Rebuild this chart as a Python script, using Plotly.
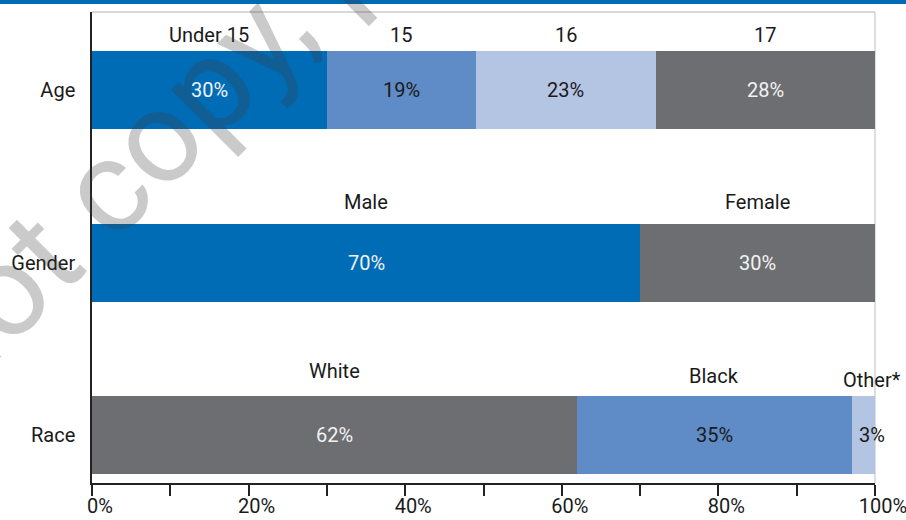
import plotly.graph_objects as go

# Rows from bottom to top on the category axis
rows = ["Race", "Gender", "Age"]

age_groups = ["Under 15", "15", "16", "17"]
age_pct = [30, 19, 23, 28]

gender_groups = ["Male", "Female"]
gender_pct = [70, 30]

race_groups = ["White", "Black", "Other*"]
race_pct = [62, 35, 3]

x_ticks = [0, 20, 40, 60, 80, 100]
x_tick_labels = ["0%", "20%", "40%", "60%", "80%", "100%"]

DARK_BLUE = "#006CB6"
MID_BLUE = "#5F8BC6"
LIGHT_BLUE = "#B4C5E4"
GRAY = "#6D6E72"
TEXT = "#1A1A1A"
FONT = "Roboto, Arial, sans-serif"
WEIGHT = 400

groups = [
    # row, names, values, fills, value-label colours, name offsets above bar centre (px)
    ("Age", age_groups, age_pct,
     [DARK_BLUE, MID_BLUE, LIGHT_BLUE, GRAY],
     ["#F2F2F2", TEXT, TEXT, "#F2F2F2"],
     [55, 55, 55, 55]),
    ("Gender", gender_groups, gender_pct,
     [DARK_BLUE, GRAY],
     ["#F2F2F2", "#F2F2F2"],
     [61, 61]),
    ("Race", race_groups, race_pct,
     [GRAY, MID_BLUE, LIGHT_BLUE],
     ["#F2F2F2", TEXT, TEXT],
     [64, 59, 55]),
]

BAR_W = 0.452

fig = go.Figure()
annotations = []

for row, names, vals, fills, vcols, offs in groups:
    yi = rows.index(row)
    start = 0
    for name, v, fc, vc, off in zip(names, vals, fills, vcols, offs):
        fig.add_trace(go.Bar(
            x=[v], y=[yi], base=[start], orientation="h",
            width=BAR_W, marker=dict(color=fc, line=dict(width=0)),
            name=name, showlegend=False, hoverinfo="skip",
        ))
        mid = start + v / 2
        small = v < 5
        # value label inside the segment
        annotations.append(dict(
            x=start if small else mid, y=yi, xref="x", yref="y",
            text=f"{v}%", showarrow=False,
            xanchor="left" if small else "center", yanchor="middle",
            xshift=5 if small else 0,
            font=dict(family=FONT, size=20, color=vc, weight=WEIGHT),
        ))
        # category name above the segment
        annotations.append(dict(
            x=mid, y=yi, xref="x", yref="y",
            text=name, showarrow=False,
            xanchor="center", yanchor="middle",
            xshift=9 if small else 0, yshift=off,
            font=dict(family=FONT, size=20, color=TEXT, weight=WEIGHT),
        ))
        start += v

# Diagonal watermark
annotations.append(dict(
    x=0.4036, y=1.2675, xref="paper", yref="paper",
    text="Do not copy, post, or distribute", showarrow=False,
    textangle=-45, xanchor="center", yanchor="middle",
    font=dict(family=FONT, size=130, color="rgba(60,60,60,0.27)", weight=400),
))

W, H = 906, 520
L, R, T, B = 92, 31, 12, 37
pw, ph = W - L - R, H - T - B

shapes = [
    # header band across the top
    dict(type="rect", xref="paper", yref="paper",
         x0=-L / pw, x1=(W - L) / pw, y0=1 + (T - 4) / ph, y1=1 + T / ph,
         fillcolor="#006AB4", line=dict(width=0), layer="above"),
    # light frame on top and right
    dict(type="line", xref="paper", yref="paper", x0=0, x1=1, y0=1, y1=1,
         line=dict(color="#D8D8D8", width=2), layer="below"),
    dict(type="line", xref="paper", yref="paper", x0=1, x1=1, y0=0, y1=1,
         line=dict(color="#D3D3D3", width=1.5), layer="below"),
]

fig.update_layout(
    width=W, height=H,
    margin=dict(l=L, r=R, t=T, b=B, pad=0, autoexpand=False),
    paper_bgcolor="white", plot_bgcolor="white",
    barmode="overlay", bargap=0,
    annotations=annotations, shapes=shapes,
    font=dict(family=FONT, size=20, color=TEXT),
    xaxis=dict(
        range=[0, 100], tickvals=x_ticks, ticktext=x_tick_labels,
        showgrid=False, zeroline=False, automargin=False,
        showline=True, linecolor="#222222", linewidth=1.5,
        ticks="outside", ticklen=11, tickcolor="#222222", tickwidth=1.5,
        minor=dict(tickvals=list(range(10, 100, 20)), ticks="outside", ticklen=11,
                   tickcolor="#222222", tickwidth=1.5, showgrid=False),
        ticklabelshift=8, ticklabelstandoff=-7, ticklabeloverflow="allow",
        tickfont=dict(family=FONT, size=20, color=TEXT, weight=WEIGHT),
        fixedrange=True,
    ),
    yaxis=dict(
        range=[-0.278, 2.452], tickvals=list(range(len(rows))), ticktext=rows,
        showgrid=False, zeroline=False, automargin=False,
        showline=True, linecolor="#222222", linewidth=1.5,
        ticks="", ticklabelstandoff=11,
        tickfont=dict(family=FONT, size=20, color=TEXT, weight=WEIGHT),
        fixedrange=True,
    ),
)

fig.write_html("out.html")
